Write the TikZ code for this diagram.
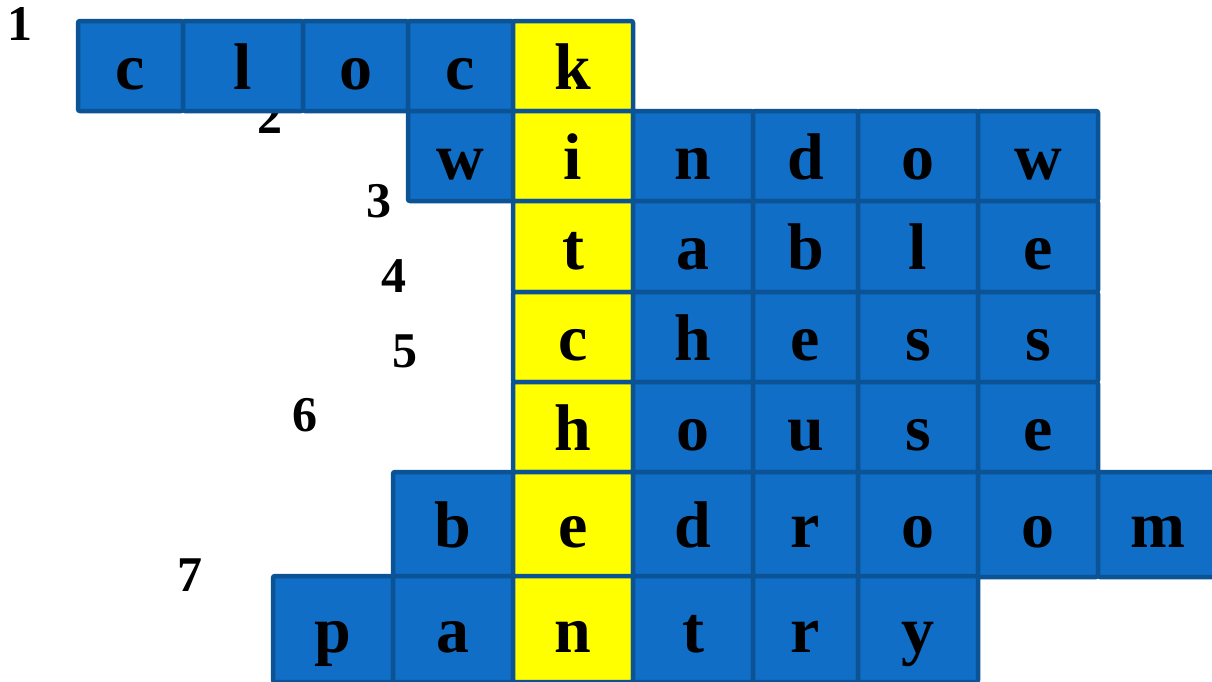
\documentclass[tikz,border=0pt]{standalone}
\usepackage{fontspec}
\setmainfont{Liberation Serif}
\usetikzlibrary{positioning}
\definecolor{CellBlue}{RGB}{16, 110, 198}
\definecolor{CellEdge}{RGB}{11, 83, 148}
\definecolor{KeyYellow}{RGB}{255, 255, 0}
\newcommand{\letterfont}{\fontsize{66}{66}\selectfont\bfseries}
\newcommand{\cluefont}{\fontsize{50}{50}\selectfont\bfseries}
\tikzset{
    cell/.style={rectangle, draw=CellEdge, fill=CellBlue, line width=4.5pt, rounded corners=2pt,
        inner sep=0pt, font=\letterfont, text height=46pt, text depth=0pt},
    keycell/.style={cell, fill=KeyYellow},
    clue/.style={font=\cluefont, inner sep=0pt}
}

\begin{document}
\begin{tikzpicture}[x=1pt, y=-1pt]
    \useasboundingbox (0,0) rectangle (1212,681);
    % clue numbers
    \node[clue] (n1) at (20, 24) {1};
    \node[clue] (n2) at (270, 117) {2};
    \node[clue] (n3) at (379, 201) {3};
    \node[clue] (n4) at (394, 276) {4};
    \node[clue] (n5) at (405, 351) {5};
    \node[clue] (n6) at (305, 415) {6};
    \node[clue] (n7) at (190, 575) {7};

    % 1: clock
    \foreach \l/\r/\ch/\st [count=\i] in {78/183/c/cell, 183/303/l/cell, 303/408/o/cell, 408/513/c/cell, 513/633/k/keycell}
        \node[\st, minimum width=\r-\l, minimum height=90] (clock-\i) at ({(\l+\r)/2}, 66) {\ch};
    % 2: window
    \foreach \l/\r/\ch/\st [count=\i] in {408/513/w/cell, 513/633/i/keycell, 633/753/n/cell, 753/858/d/cell, 858/978/o/cell, 978/1098/w/cell}
        \node[\st, minimum width=\r-\l, minimum height=90] (window-\i) at ({(\l+\r)/2}, 156) {\ch};
    % 3: table
    \foreach \l/\r/\ch/\st [count=\i] in {513/633/t/keycell, 633/753/a/cell, 753/858/b/cell, 858/978/l/cell, 978/1098/e/cell}
        \node[\st, minimum width=\r-\l, minimum height=91] (table-\i) at ({(\l+\r)/2}, 246.5) {\ch};
    % 4: chess
    \foreach \l/\r/\ch/\st [count=\i] in {513/633/c/keycell, 633/753/h/cell, 753/858/e/cell, 858/978/s/cell, 978/1098/s/cell}
        \node[\st, minimum width=\r-\l, minimum height=90] (chess-\i) at ({(\l+\r)/2}, 337) {\ch};
    % 5: house
    \foreach \l/\r/\ch/\st [count=\i] in {513/633/h/keycell, 633/753/o/cell, 753/858/u/cell, 858/978/s/cell, 978/1098/e/cell}
        \node[\st, minimum width=\r-\l, minimum height=90] (house-\i) at ({(\l+\r)/2}, 427) {\ch};
    % 6: bedroom
    \foreach \l/\r/\ch/\st [count=\i] in {393/513/b/cell, 513/633/e/keycell, 633/753/d/cell, 753/858/r/cell, 858/978/o/cell, 978/1098/o/cell, 1098/1218/m/cell}
        \node[\st, minimum width=\r-\l, minimum height=105] (bedroom-\i) at ({(\l+\r)/2}, 524.5) {\ch};
    % 7: pantry
    \foreach \l/\r/\ch/\st [count=\i] in {273/393/p/cell, 393/513/a/cell, 513/633/n/keycell, 633/753/t/cell, 753/858/r/cell, 858/978/y/cell}
        \node[\st, minimum width=\r-\l, minimum height=106] (pantry-\i) at ({(\l+\r)/2}, 629) {\ch};
\end{tikzpicture}
\end{document}
